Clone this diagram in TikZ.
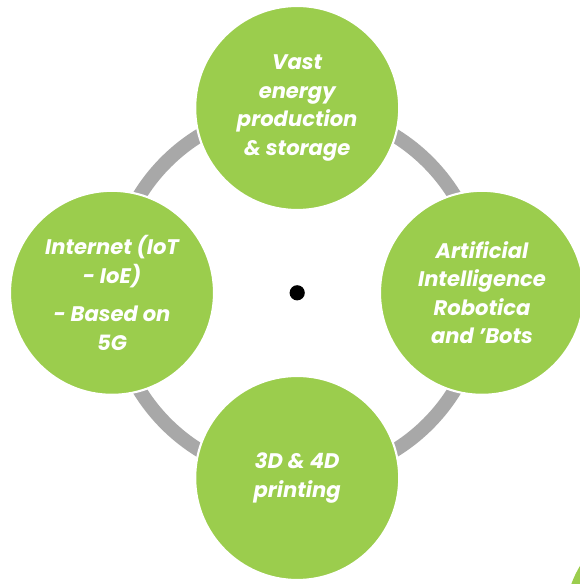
\documentclass[tikz,border=0pt]{standalone}
\usepackage{fontspec}
\setmainfont{Poppins}
\usetikzlibrary{backgrounds}
\definecolor{leaf}{HTML}{9BCD4D}
\definecolor{ringgray}{HTML}{A8A8A8}
\tikzset{
	topic/.style = {circle, fill = leaf, draw = white, line width = 1.5pt, minimum size = 5.1cm, inner sep = 0pt, align = center, text = white, font = \fontsize{15}{20.3}\selectfont\bfseries\itshape},
	ring/.style = {draw = ringgray, line width = 0.35cm}
}
\begin{document}
\begin{tikzpicture}
	\useasboundingbox (0,0) rectangle (14.5,14.6);
	\node (C) at ( 7.43,  7.28)	[circle, fill = black, inner sep = 0pt, minimum size = 0.38cm]	{};
	\node (E) at ( 7.43, 11.90)	[topic]	{Vast\\energy\\production\\\& storage};
	\node (A) at (12.05,  7.28)	[topic]	{Artificial\\Intelligence\\Robotica\\and 'Bots};
	\node (P) at ( 7.43,  2.65)	[topic]	{3D \& 4D\\printing};
	\node (I) at ( 2.80,  7.28)	[topic]	{Internet (IoT\\- IoE)\\[7pt]- Based on\\5G};
	% ring behind the circles
	\begin{scope}[on background layer]
		\fill[white] (0,0) rectangle (14.5,14.6);
		\draw[ring] (E.center) to[bend left = 45] (A.center);
		\draw[ring] (A.center) to[bend left = 45] (P.center);
		\draw[ring] (P.center) to[bend left = 45] (I.center);
		\draw[ring] (I.center) to[bend left = 45] (E.center);
	\end{scope}
	% next circle, cut by the page
	\begin{scope}
		\clip (0,0) rectangle (14.5,14.6);
		\fill[leaf] (16.75,-0.9) circle (2.625);
	\end{scope}
\end{tikzpicture}
\end{document}
